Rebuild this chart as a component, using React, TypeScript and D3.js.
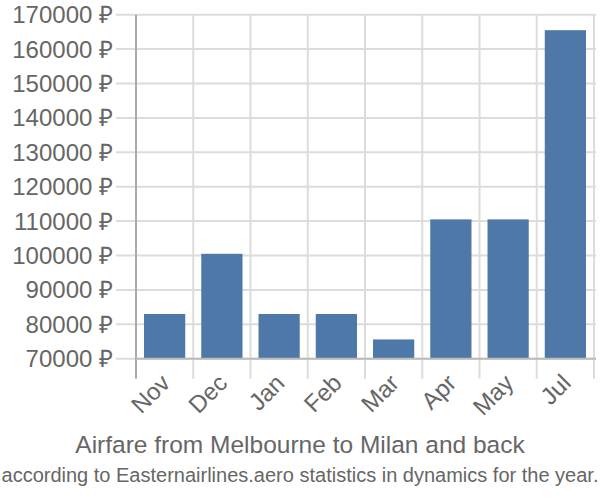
import React from "react";
import * as d3 from "d3";

const months = ["Nov", "Dec", "Jan", "Feb", "Mar", "Apr", "May", "Jul"];
const prices = [83000, 100500, 83000, 83000, 75600, 110500, 110500, 165500];
const yTicks = [70000, 80000, 90000, 100000, 110000, 120000, 130000, 140000, 150000, 160000, 170000];
const title = "Airfare from Melbourne to Milan and back";
const subtitle = "according to Easternairlines.aero statistics in dynamics for the year.";

export default function App() {
  const W = 600, H = 500;
  const left = 136, right = 594, top = 14.7, bottom = 358.7;
  const x = d3.scaleBand().domain(months).range([left, right]).paddingInner(0.28).paddingOuter(0.14);
  const y = d3.scaleLinear().domain([70000, 170000]).range([bottom, top]);
  const bounds = months.map((_, i) => left + i * (right - left) / months.length);
  bounds.push(right);
  const font = "'Liberation Sans', Arial, sans-serif";
  return (
    <svg width={W} height={H} style={{ position: "absolute", left: 0, top: 0 }} fontFamily={font}>
      {yTicks.map((t) => (
        <g key={t}>
          <line x1={116} x2={right + 2} y1={y(t)} y2={y(t)} stroke="#dcdcdc" strokeWidth={2} />
          <text x={113} y={y(t)} dy="0.35em" textAnchor="end" fontSize={24} fill="#666">
            {`${t} ₽`}
          </text>
        </g>
      ))}
      {bounds.map((b, i) => (
        <line key={i} x1={b} x2={b} y1={top} y2={bottom + 20} stroke={i === 0 ? "#aaa" : "#dcdcdc"} strokeWidth={2} />
      ))}
      {months.map((m, i) => (
        <rect key={m} x={x(m)} y={y(prices[i])} width={x.bandwidth()} height={bottom - y(prices[i])} fill="#4d78a7" />
      ))}
      <line x1={left} x2={right + 2} y1={bottom} y2={bottom} stroke="#bbb" strokeWidth={2} />
      {months.map((m) => {
        const cx = (x(m) as number) + x.bandwidth() / 2;
        return (
          <text key={m} transform={`translate(${cx - 5},${bottom + 14}) rotate(-45)`} textAnchor="end" dy="0.7em" fontSize={24} fill="#666">
            {m}
          </text>
        );
      })}
      <text x={300} y={453} textAnchor="middle" fontSize={24.5} fill="#666">{title}</text>
      <text x={300} y={482} textAnchor="middle" fontSize={20} fill="#666">{subtitle}</text>
    </svg>
  );
}
